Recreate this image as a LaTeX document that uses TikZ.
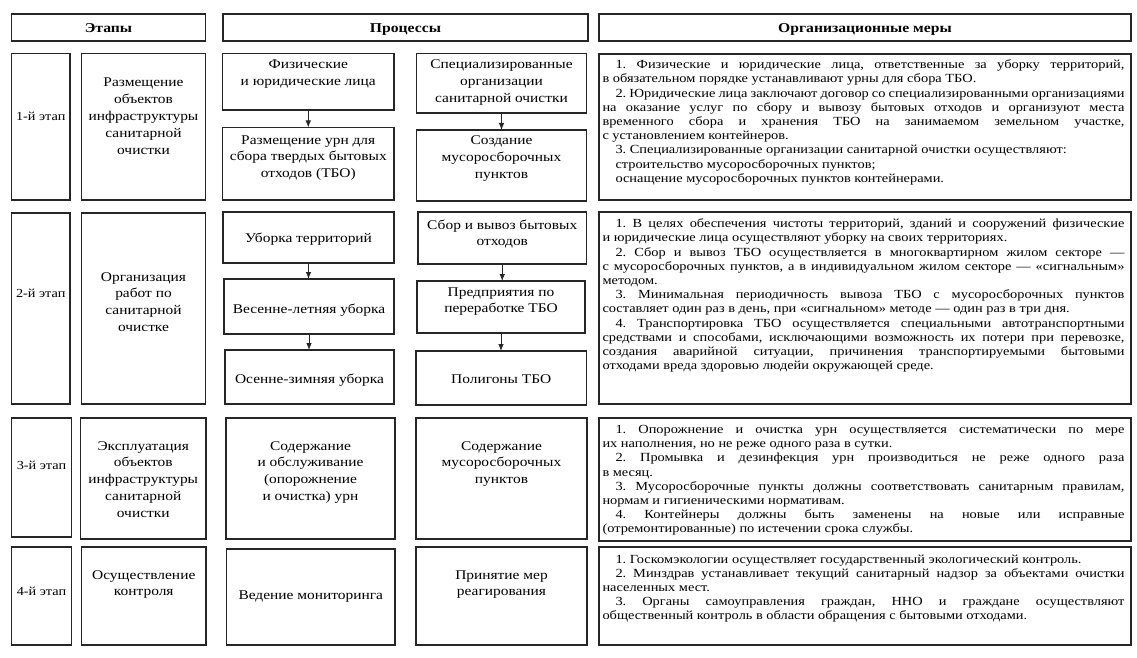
\documentclass[tikz,border=0pt]{standalone}
\usepackage{fontspec}
\setmainfont{Liberation Serif}[FakeStretch=1.16]
\usetikzlibrary{arrows.meta}
\frenchspacing
\newcommand\cfont{\fontsize{13.3}{16.8}\selectfont}
\newcommand\sfont{\fontsize{12.3}{14.2}\selectfont}
\newcommand\rfont{\fontsize{12.4}{14.2}\selectfont}
\newcommand\hfont{\fontsize{13.5}{16}\selectfont\bfseries}
\newcommand\bx[5]{\node[bx, minimum width={(#4)-(#2)}, minimum height={(#5)-(#3)}] (#1) at ({((#2)+(#4))/2},{((#3)+(#5))/2}) {};}
\newcommand\ct[4]{\node[tx] (#1) at (#2,#3) {\parbox[t]{180pt}{\centering #4}};}
\newcommand\rt[3]{\node[tx, anchor=base west] (#1) at (602.5,#2) {\begin{minipage}[t]{522pt}\rfont\frenchspacing\setlength\parindent{13pt}\tolerance=10000 \hbadness=10000 \hyphenpenalty=10000 \exhyphenpenalty=10000 #3\end{minipage}};}
\begin{document}
\begin{tikzpicture}[x=1pt, y=-1pt,
  bx/.style={draw=black!85, line width=1.5pt, inner sep=0pt, outer sep=0pt, rectangle},
  tx/.style={anchor=base, inner sep=0pt, outer sep=0pt},
  arr/.style={-{Latex[length=7pt,width=5.5pt]}, line width=0.8pt, draw=black!85}]
\useasboundingbox (0,0) rectangle (1137,658);
% headers
\bx{h1}{11.5}{14}{205.5}{41}
\bx{h2}{223}{14}{588}{41}
\bx{h3}{599}{14}{1131}{41}
\ct{h1t}{108.5}{32.5}{\hfont Этапы}
\ct{h2t}{405.5}{32.5}{\hfont Процессы}
\ct{h3t}{865}{32.5}{\hfont Организационные меры}
% row 1
\bx{s1l}{11.5}{53.5}{70}{200}
\bx{s1n}{81.5}{53.5}{205.5}{200}
\bx{p1a}{222.5}{53.5}{394}{110}
\bx{p1c}{222.5}{127.5}{394}{200}
\bx{p1b}{416.5}{53.5}{586.5}{113}
\bx{p1d}{416.5}{130}{586.5}{201}
\bx{r1}{599}{54}{1131}{200}
\ct{s1lt}{40.75}{120.5}{\sfont 1-й этап}
\ct{s1nt}{143.5}{87}{\cfont Размещение\\объектов\\инфраструктуры\\санитарной\\очистки}
\ct{p1at}{308.25}{69}{\cfont Физические\\и юридические лица}
\ct{p1ct}{308.25}{144}{\cfont Размещение урн для\\сбора твердых бытовых\\отходов (ТБО)}
\ct{p1bt}{501.5}{69}{\cfont Специализированные\\организации\\санитарной очистки}
\ct{p1dt}{501.5}{145}{\cfont Создание\\мусоросборочных\\пунктов}
\draw[arr] (p1a.south) -- (p1a.south |- p1c.north);
\draw[arr] (p1b.south) -- (p1b.south |- p1d.north);
\rt{r1t}{68.7}{1. Физические и юридические лица, ответственные за уборку территорий,\linebreak в обязательном порядке устанавливают урны для сбора ТБО.\par
2. Юридические лица заключают договор со специализированными организациями\linebreak на оказание услуг по сбору и вывозу бытовых отходов и организуют места\linebreak временного сбора и хранения ТБО на занимаемом земельном участке,\linebreak с установлением контейнеров.\par
3. Специализированные организации санитарной очистки осуществляют:\par
строительство мусоросборочных пунктов;\par
оснащение мусоросборочных пунктов контейнерами.}
% row 2
\bx{s2l}{11.5}{213}{70}{404}
\bx{s2n}{81.5}{213}{205.5}{404}
\bx{p2a}{223}{212}{394}{263}
\bx{p2c}{224}{279}{394}{334}
\bx{p2e}{225}{350}{394}{404}
\bx{p2b}{418}{212}{586.5}{264}
\bx{p2d}{417}{281}{585}{333}
\bx{p2f}{416}{351}{586.5}{405}
\bx{r2}{599}{212}{1131}{404}
\ct{s2lt}{40.75}{297}{\sfont 2-й этап}
\ct{s2nt}{143.5}{281}{\cfont Организация\\работ по\\санитарной\\очистке}
\ct{p2at}{308.5}{242}{\cfont Уборка территорий}
\ct{p2ct}{309}{313}{\cfont Весенне-летняя уборка}
\ct{p2et}{309.5}{383}{\cfont Осенне-зимняя уборка}
\ct{p2bt}{502.25}{229}{\cfont Сбор и вывоз бытовых\\отходов}
\ct{p2dt}{501}{296}{\cfont Предприятия по\\переработке ТБО}
\ct{p2ft}{501.25}{383}{\cfont Полигоны ТБО}
\draw[arr] (p2a.south) -- (p2a.south |- p2c.north);
\draw[arr] (p2c.south) -- (p2c.south |- p2e.north);
\draw[arr] (p2b.south) -- (p2b.south |- p2d.north);
\draw[arr] (p2d.south) -- (p2d.south |- p2f.north);
\rt{r2t}{227.7}{1. В целях обеспечения чистоты территорий, зданий и сооружений физические\linebreak и юридические лица осуществляют уборку на своих территориях.\par
2. Сбор и вывоз ТБО осуществляется в многоквартирном жилом секторе —\linebreak с мусоросборочных пунктов, а в индивидуальном жилом секторе — «сигнальным»\linebreak методом.\par
3. Минимальная периодичность вывоза ТБО с мусоросборочных пунктов\linebreak составляет один раз в день, при «сигнальном» методе — один раз в три дня.\par
4. Транспортировка ТБО осуществляется специальными автотранспортными\linebreak средствами и способами, исключающими возможность их потери при перевозке,\linebreak создания аварийной ситуации, причинения транспортируемыми бытовыми\linebreak отходами вреда здоровью людейи окружающей среде.}
% row 3
\bx{s3l}{11.5}{418}{71.5}{537}
\bx{s3n}{80.5}{418}{206}{539}
\bx{p3a}{226}{418}{395}{539}
\bx{p3b}{416}{418}{587}{539}
\bx{r3}{599}{418}{1131}{541}
\ct{s3lt}{41.5}{469}{\sfont 3-й этап}
\ct{s3nt}{143.25}{450}{\cfont Эксплуатация\\объектов\\инфраструктуры\\санитарной\\очистки}
\ct{p3at}{310.5}{450}{\cfont Содержание\\и обслуживание\\(опорожнение\\и очистка) урн}
\ct{p3bt}{501.5}{450}{\cfont Содержание\\мусоросборочных\\пунктов}
\rt{r3t}{433.5}{1. Опорожнение и очистка урн осуществляется систематически по мере\linebreak их наполнения, но не реже одного раза в сутки.\par
2. Промывка и дезинфекция урн производиться не реже одного раза\linebreak в месяц.\par
3. Мусоросборочные пункты должны соответствовать санитарным правилам,\linebreak нормам и гигиеническими нормативам.\par
4. Контейнеры должны быть заменены на новые или исправные\linebreak (отремонтированные) по истечении срока службы.}
% row 4
\bx{s4l}{11.5}{547}{71.5}{645}
\bx{s4n}{81.5}{547}{206}{645}
\bx{p4a}{226.5}{549}{395}{645}
\bx{p4b}{416}{547}{587}{645}
\bx{r4}{599}{547}{1131}{645}
\ct{s4lt}{41.5}{595}{\sfont 4-й этап}
\ct{s4nt}{143.75}{579}{\cfont Осуществление\\контроля}
\ct{p4at}{310.75}{599}{\cfont Ведение мониторинга}
\ct{p4bt}{501.5}{579}{\cfont Принятие мер\\реагирования}
\rt{r4t}{563}{1. Госкомэкологии осуществляет государственный экологический контроль.\par
2. Минздрав устанавливает текущий санитарный надзор за объектами очистки\linebreak населенных мест.\par
3. Органы самоуправления граждан, ННО и граждане осуществляют\linebreak общественный контроль в области обращения с бытовыми отходами.}
\end{tikzpicture}
\end{document}
